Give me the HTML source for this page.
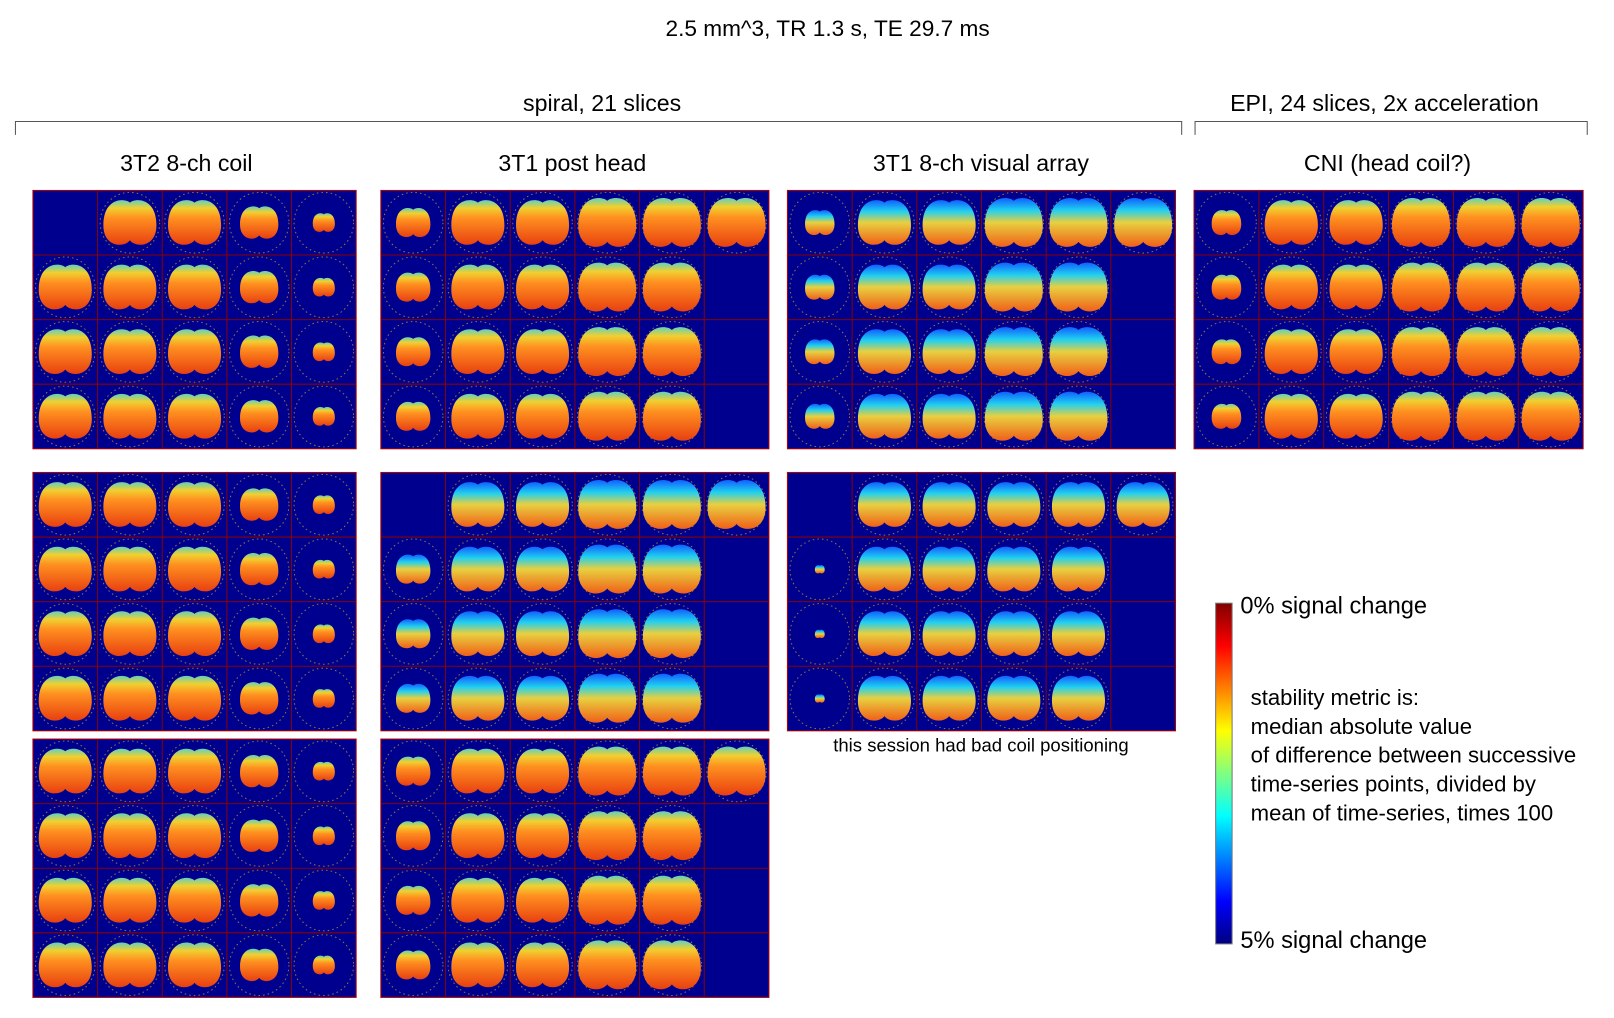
<!DOCTYPE html>
<html><head><meta charset="utf-8">
<style>
html,body{margin:0;padding:0;background:#fff;width:1614px;height:1018px;overflow:hidden}
svg{display:block}
text{font-family:"Liberation Sans",sans-serif;fill:#000}
</style></head><body>
<svg id="s" width="1614" height="1018" viewBox="0 0 1568 989" preserveAspectRatio="none" xmlns="http://www.w3.org/2000/svg">
<defs>
<linearGradient id="jet" x1="0" y1="0" x2="0" y2="1">
<stop offset="0" stop-color="#800000"/><stop offset="0.125" stop-color="#ff0000"/>
<stop offset="0.375" stop-color="#ffff00"/><stop offset="0.5" stop-color="#80ff80"/>
<stop offset="0.625" stop-color="#00ffff"/><stop offset="0.875" stop-color="#0000ff"/>
<stop offset="1" stop-color="#000080"/></linearGradient>
<linearGradient id="brain" x1="0" y1="0" x2="0" y2="1">
<stop offset="0" stop-color="#60d0c0"/><stop offset="0.18" stop-color="#f0d030"/>
<stop offset="0.4" stop-color="#ff9020"/><stop offset="1" stop-color="#e84010"/></linearGradient>
<linearGradient id="brain2" x1="0" y1="0" x2="0" y2="1">
<stop offset="0" stop-color="#1060ff"/><stop offset="0.25" stop-color="#20d0f0"/>
<stop offset="0.5" stop-color="#e8d040"/><stop offset="1" stop-color="#f06018"/></linearGradient>
</defs>
<text x="804" y="35" font-size="22" text-anchor="middle">2.5 mm^3, TR 1.3 s, TE 29.7 ms</text>
<text x="585" y="108" font-size="22.5" text-anchor="middle">spiral, 21 slices</text>
<text x="1345" y="108" font-size="22.5" text-anchor="middle">EPI, 24 slices, 2x acceleration</text>
<path d="M15,131 V118 H1148 V131 M1161,131 V118 H1542 V131" fill="none" stroke="#555" stroke-width="1"/>
<text x="181" y="166" font-size="22.5" text-anchor="middle">3T2 8-ch coil</text>
<text x="556" y="166" font-size="22.5" text-anchor="middle">3T1 post head</text>
<text x="953" y="166" font-size="22.5" text-anchor="middle">3T1 8-ch visual array</text>
<text x="1348" y="166" font-size="22.5" text-anchor="middle">CNI (head coil?)</text>
<text x="953" y="730" font-size="18" text-anchor="middle">this session had bad coil positioning</text>
<rect x="1181" y="586" width="16" height="331" fill="url(#jet)" stroke="#777" stroke-width="1"/>
<text x="1205" y="596" font-size="23">0% signal change</text>
<text x="1205" y="921" font-size="23">5% signal change</text>
<g font-size="21.5">
<text x="1215" y="685">stability metric is:</text>
<text x="1215" y="713">median absolute value</text>
<text x="1215" y="741">of difference between successive</text>
<text x="1215" y="769">time-series points, divided by</text>
<text x="1215" y="797">mean of time-series, times 100</text>
</g>
<g id="panels"></g>
</svg>
<script>
var g=document.getElementById('panels'),h='';
var P=[
 [32,185,346,436,5,[[0,0]],'a'],
 [370,185,747,436,6,[[1,5],[2,5],[3,5]],'b'],
 [765,185,1142,436,6,[[1,5],[2,5],[3,5]],'c'],
 [1160,185,1538,436,6,[],'d'],
 [32,459,346,710,5,[],'a'],
 [370,459,747,710,6,[[0,0],[1,5],[2,5],[3,5]],'e'],
 [765,459,1142,710,6,[[0,0],[1,5],[2,5],[3,5]],'f'],
 [32,718,346,969,5,[],'a'],
 [370,718,747,969,6,[[1,5],[2,5],[3,5]],'b']
];
P.forEach(function(p){
 var x0=p[0],y0=p[1],W=p[2]-x0,H=p[3]-y0,nc=p[4],cw=W/nc,ch=H/4;
 h+='<rect x="'+x0+'" y="'+y0+'" width="'+W+'" height="'+H+'" fill="#00008f" stroke="#b00000" stroke-width="1"/>';
 for(var r=0;r<4;r++)for(var c=0;c<nc;c++){
  var skip=p[5].some(function(e){return e[0]==r&&e[1]==c});
  var cx=x0+c*cw+cw/2,cy=y0+r*ch+ch/2;
  if(skip)continue;
  var s=1.08;
  if(p[6]=='a'&&c==4)s=0.45;
  if(p[6]=='a'&&c==3)s=0.78;
  if((p[6]=='b'||p[6]=='e')&&c==0)s=0.7;
  if(p[6]=='c'&&c==0)s=0.6;
  if(p[6]=='d'&&c==0)s=0.6;
  if(p[6]=='f'&&c==0)s=0.2;
  if((p[6]=='b'||p[6]=='c'||p[6]=='d'||p[6]=='e')&&c>=3)s=1.18;
  var grad=(p[6]=='e'||p[6]=='f'||p[6]=='c')?'brain2':'brain';
  h+='<ellipse cx="'+cx+'" cy="'+cy+'" rx="'+(cw*0.46)+'" ry="'+(ch*0.47)+'" fill="none" stroke="#d0a020" stroke-width="1" stroke-dasharray="1.5 3" opacity="0.7"/>';
  var rx=cw*0.38*s,ry=ch*0.36*s;
  h+='<path d="M'+(cx-rx)+','+(cy+ry*0.1)+' C'+(cx-rx)+','+(cy-ry)+' '+(cx-rx*0.2)+','+(cy-ry)+' '+cx+','+(cy-ry*0.8)+' C'+(cx+rx*0.2)+','+(cy-ry)+' '+(cx+rx)+','+(cy-ry)+' '+(cx+rx)+','+(cy+ry*0.1)+' C'+(cx+rx)+','+(cy+ry)+' '+(cx+rx*0.2)+','+(cy+ry)+' '+cx+','+(cy+ry*0.7)+' C'+(cx-rx*0.2)+','+(cy+ry)+' '+(cx-rx)+','+(cy+ry)+' '+(cx-rx)+','+(cy+ry*0.1)+'Z" fill="url(#'+grad+')"/>';
 }
 for(var c=1;c<nc;c++)h+='<line x1="'+(x0+c*cw)+'" y1="'+y0+'" x2="'+(x0+c*cw)+'" y2="'+(y0+H)+'" stroke="#8a0000" stroke-width="1"/>';
 for(var r=1;r<4;r++)h+='<line x1="'+x0+'" y1="'+(y0+r*ch)+'" x2="'+(x0+W)+'" y2="'+(y0+r*ch)+'" stroke="#8a0000" stroke-width="1"/>';
});
g.innerHTML=h;
</script>
</body></html>
